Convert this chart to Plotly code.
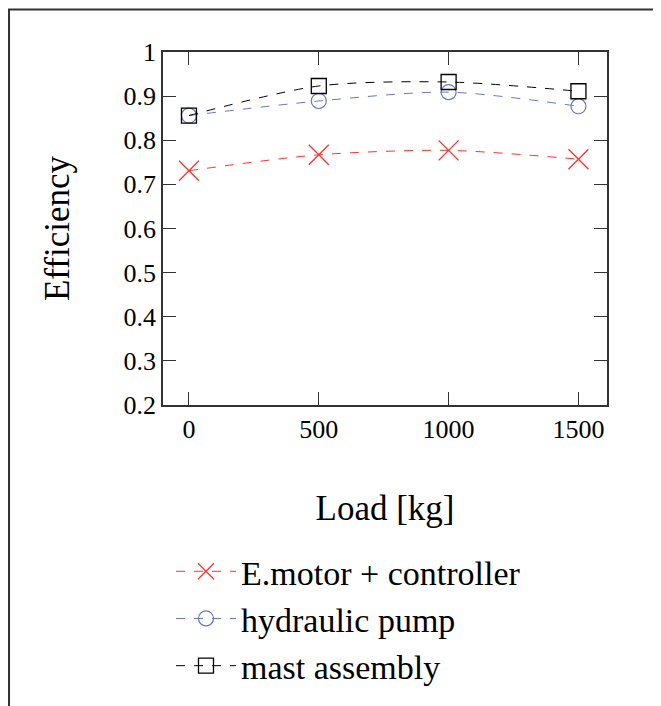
import plotly.graph_objects as go

load_kg = [0, 500, 1000, 1500]
emotor_controller = [0.731, 0.767, 0.777, 0.757]
hydraulic_pump = [0.856, 0.889, 0.909, 0.877]
mast_assembly = [0.856, 0.923, 0.932, 0.911]

y_tick_vals = [0.2, 0.3, 0.4, 0.5, 0.6, 0.7, 0.8, 0.9, 1.0]
y_tick_text = ["0.2", "0.3", "0.4", "0.5", "0.6", "0.7", "0.8", "0.9", "1"]
x_tick_vals = [0, 500, 1000, 1500]

FONT = "Liberation Serif, Times New Roman, serif"

fig = go.Figure()
fig.add_trace(go.Scatter(
    x=load_kg, y=emotor_controller, name="E.motor + controller",
    mode="lines+markers",
    line=dict(color="#ff3030", width=1, dash="dash", shape="spline", smoothing=0.8),
    marker=dict(symbol="x-thin-open", size=20, color="#ff3030", line=dict(width=1.3, color="#ff3030")),
))
fig.add_trace(go.Scatter(
    x=load_kg, y=hydraulic_pump, name="hydraulic pump",
    mode="lines+markers",
    line=dict(color="#6677cc", width=1, dash="dash", shape="spline", smoothing=0.8),
    marker=dict(symbol="circle-open", size=15, color="#6677cc", line=dict(width=1.2, color="#6677cc")),
))
fig.add_trace(go.Scatter(
    x=load_kg, y=mast_assembly, name="mast assembly",
    mode="lines+markers",
    line=dict(color="#000000", width=1, dash="dash", shape="spline", smoothing=0.8),
    marker=dict(symbol="square-open", size=15, color="#000000", line=dict(width=1.3, color="#000000")),
))

axis_common = dict(
    showline=True, linecolor="#333333", linewidth=1.5, mirror="ticks",
    ticks="inside", ticklen=13, tickwidth=1.2, tickcolor="#333333",
    showgrid=False, zeroline=False,
    tickfont=dict(family=FONT, size=26, color="black"),
)

fig.update_layout(
    width=653, height=698,
    margin=dict(l=155, r=54, t=44, b=297),
    paper_bgcolor="white", plot_bgcolor="white",
    font=dict(family=FONT, color="black"),
    xaxis=dict(range=[-100, 1610], tickvals=x_tick_vals,
               title=dict(text="Load [kg]", font=dict(family=FONT, size=35), standoff=53),
               **axis_common),
    yaxis=dict(range=[0.2, 1.0], tickvals=y_tick_vals, ticktext=y_tick_text,
               title=dict(text="Efficiency", font=dict(family=FONT, size=35), standoff=43),
               **axis_common),
    showlegend=True,
    legend=dict(x=0.018, y=-0.39, xanchor="left", yanchor="top",
                font=dict(family=FONT, size=34, color="black"),
                bgcolor="rgba(0,0,0,0)", itemwidth=60, tracegroupgap=0),
    shapes=[dict(type="rect", xref="paper", yref="paper",
                 x0=-0.3468, x1=1.3, y0=1.1204, y1=-1.0,
                 line=dict(color="#333333", width=2), fillcolor="rgba(0,0,0,0)")],
)

fig.write_html("out.html")
